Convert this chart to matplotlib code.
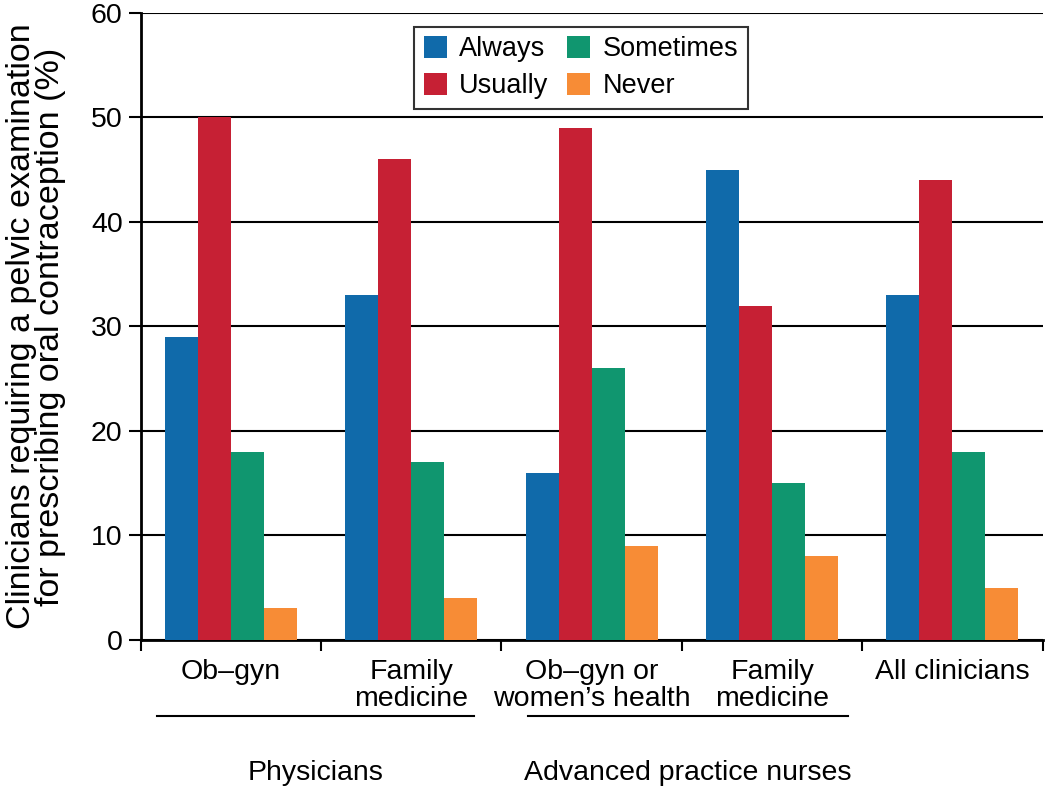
import matplotlib
matplotlib.use('Agg')
import matplotlib.pyplot as plt
import numpy as np

plt.rcParams['font.family'] = ['Liberation Sans', 'DejaVu Sans']

# Data
groups = ['Ob\u2013gyn', 'Family\nmedicine', 'Ob\u2013gyn or\nwomen\u2019s health',
          'Family\nmedicine', 'All clinicians']
always = [29, 33, 16, 45, 33]
usually = [50, 46, 49, 32, 44]
sometimes = [18, 17, 26, 15, 18]
never = [3, 4, 9, 8, 5]

series = [('Always', always, '#106AAA'),
          ('Usually', usually, '#C62034'),
          ('Sometimes', sometimes, '#10966F'),
          ('Never', never, '#F78C36')]

fig = plt.figure(figsize=(10.5, 7.87), dpi=100)
ax = fig.add_axes([0.134, 0.187, 0.859, 0.7965])

x = np.arange(len(groups))
w = 0.183
for i, (name, vals, col) in enumerate(series):
    ax.bar(x + (i - 1.5) * w, vals, w, color=col, label=name, zorder=3)

ax.set_xlim(-0.5, len(groups) - 0.5)
ax.set_ylim(0, 60)
ax.set_yticks(range(0, 61, 10))
ax.yaxis.grid(True, color='black', linewidth=1.5, zorder=0)
ax.set_axisbelow(True)

for s in ['top', 'right']:
    ax.spines[s].set_visible(False)
for s in ['left', 'bottom']:
    ax.spines[s].set_linewidth(2)

ax.tick_params(axis='y', length=9, width=1.5, labelsize=20.5, pad=4)
ax.set_xticks(x)
ax.set_xticklabels(groups, fontsize=20.5, linespacing=1.05)
ax.tick_params(axis='x', which='major', length=0, pad=14)
ax.set_xticks(np.arange(-0.5, len(groups)), minor=True)
ax.tick_params(axis='x', which='minor', length=8, width=1.5)

ax.set_ylabel('Clinicians requiring a pelvic examination\nfor prescribing oral contraception (%)',
              fontsize=24.5, linespacing=0.92, labelpad=18)

# Group brackets under the axis
trans = ax.get_xaxis_transform()
for x0, x1, label in [(-0.41, 1.35, 'Physicians'), (1.645, 3.42, 'Advanced practice nurses')]:
    ax.plot([x0, x1], [-0.121, -0.121], color='black', linewidth=1.5,
            transform=trans, clip_on=False)
    ax.text((x0 + x1) / 2, -0.212, label, transform=trans, ha='center', va='center',
            fontsize=20.5)

leg = ax.legend(ncol=2, loc='upper center', bbox_to_anchor=(0.488, 0.978),
                borderaxespad=0, fontsize=19.5, frameon=True, fancybox=False,
                edgecolor='black', handlelength=0.85, handleheight=0.85,
                handletextpad=0.45, columnspacing=0.7, labelspacing=0.4,
                borderpad=0.35)
leg.get_frame().set_linewidth(1.5)
leg.set_zorder(5)

fig.savefig('out.png', dpi=100)
